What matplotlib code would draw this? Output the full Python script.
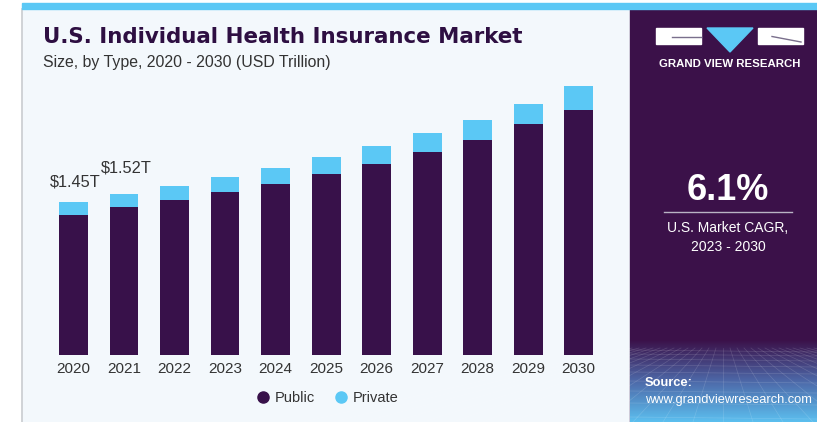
import numpy as np
import matplotlib.pyplot as plt
from matplotlib.lines import Line2D
from matplotlib.patches import Rectangle, Polygon

plt.rcParams['font.family'] = ['Liberation Sans', 'DejaVu Sans']

# market size by type, USD trillion
years = ['2020', '2021', '2022', '2023', '2024', '2025', '2026', '2027', '2028', '2029', '2030']
public = [1.32, 1.40, 1.47, 1.54, 1.62, 1.71, 1.81, 1.92, 2.03, 2.18, 2.32]
private = [0.13, 0.12, 0.13, 0.14, 0.15, 0.16, 0.17, 0.18, 0.19, 0.19, 0.22]
total_labels = {0: '$1.45T', 1: '$1.52T'}

PURPLE = '#38114a'
BLUE = '#5bc8f5'
BG = '#f3f8fc'

W, H = 817, 422
fig = plt.figure(figsize=(W / 100, H / 100), dpi=100)
fig.patch.set_facecolor('white')

# full-figure canvas in pixel units for the frame and side panel
bg = fig.add_axes([0, 0, 1, 1])
bg.set_xlim(0, W)
bg.set_ylim(H, 0)
bg.axis('off')

bg.add_patch(Rectangle((22, 9), W - 22, H - 9, color=BG, zorder=0))
bg.plot([22, 22], [9, H], color='#c9ccd0', lw=1.2, zorder=1)
bg.add_patch(Rectangle((22, 3), W - 22, 6, color=BLUE, zorder=2))

# side panel with gradient footer
bg.add_patch(Rectangle((630, 9), W - 630, H - 9, color='#3b1149', zorder=1))
grad = np.linspace(0, 1, 200)[:, None, None]
top_c = np.array([0x3b, 0x11, 0x49]) / 255
mid_c = np.array([0x4d, 0x68, 0xa8]) / 255
bot_c = np.array([0x5c, 0xbf, 0xef]) / 255
cols = np.where(grad < 0.5,
                top_c + (mid_c - top_c) * (grad / 0.5),
                mid_c + (bot_c - mid_c) * ((grad - 0.5) / 0.5))
cols = np.repeat(cols, 2, axis=1)
bg.imshow(cols, extent=[630, W, H, 340], aspect='auto', zorder=2)

# perspective mesh in the footer
for k in range(-14, 15):
    bg.plot([723 + k * 7, 723 + k * 30], [348, H], color='white', lw=0.5, alpha=0.15, zorder=3)
for yy in [350, 354, 359, 365, 372, 381, 391, 403, 417]:
    bg.plot([630, W], [yy, yy + 2], color='white', lw=0.5, alpha=0.15, zorder=3)
bg.set_xlim(0, W)
bg.set_ylim(H, 0)

# logo
bg.add_patch(Rectangle((656, 28), 45, 16, color='white', zorder=4))
bg.plot([672, 701], [36.5, 36.5], color='#7a6f8c', lw=1, zorder=5)
bg.add_patch(Polygon([[707, 28], [753, 28], [730, 52]], color=BLUE, zorder=4))
bg.add_patch(Rectangle((758, 28), 45, 16, color='white', zorder=4))
bg.plot([772, 801], [36.5, 42], color='#7a6f8c', lw=1, zorder=5)
bg.text(729.5, 64, 'GRAND VIEW RESEARCH', color='white', fontsize=8.2,
        fontweight='bold', ha='center', va='center', zorder=5)

# CAGR callout
bg.text(728, 191, '6.1%', color='white', fontsize=26, fontweight='bold',
        ha='center', va='center', zorder=5)
bg.plot([664, 792], [212, 212], color='#b9b3c4', lw=1, zorder=5)
bg.text(728, 228, 'U.S. Market CAGR,', color='white', fontsize=10,
        ha='center', va='center', zorder=5)
bg.text(728, 247, '2023 - 2030', color='white', fontsize=10,
        ha='center', va='center', zorder=5)

bg.text(645, 383, 'Source:', color='white', fontsize=9.3, fontweight='bold',
        ha='left', va='center', zorder=5)
bg.text(645, 400, 'www.grandviewresearch.com', color='white', fontsize=9.3,
        ha='left', va='center', zorder=5)

# titles
bg.text(43, 37, 'U.S. Individual Health Insurance Market', color='#2e0f42',
        fontsize=15.4, fontweight='bold', family='DejaVu Sans', ha='left', va='center')
bg.text(43, 62, 'Size, by Type, 2020 - 2030 (USD Trillion)', color='#333333',
        fontsize=11.4, ha='left', va='center')

# bar chart
ax = fig.add_axes([48.2 / W, 67 / H, 555.8 / W, 296 / H])
ax.patch.set_alpha(0)
x = np.arange(len(years))
ax.bar(x, public, width=0.57, color=PURPLE, zorder=2)
ax.bar(x, private, width=0.57, bottom=public, color=BLUE, zorder=2)
ax.set_xlim(-0.5, len(years) - 0.5)
ax.set_ylim(0, 296 / 105.75)
ax.set_xticks(x)
ax.set_xticklabels(years, fontsize=11, color='#333333')
ax.tick_params(axis='x', length=0, pad=5)
ax.set_yticks([])
for s in ax.spines.values():
    s.set_visible(False)

totals = [p + q for p, q in zip(public, private)]
offsets = {0: 8.4, 1: 13.8}
for i, lab in total_labels.items():
    ax.annotate(lab, (x[i], totals[i]), xytext=(1.5, offsets[i]), textcoords='offset points',
                ha='center', va='bottom', fontsize=11.8, color='#333333')

handles = [Line2D([], [], marker='o', ls='', color=PURPLE, markersize=8),
           Line2D([], [], marker='o', ls='', color=BLUE, markersize=8)]
fig.legend(handles, ['Public', 'Private'], loc='center', bbox_to_anchor=(327 / W, 1 - 398 / H),
           ncol=2, frameon=False, prop={'size': 10.5}, handletextpad=0.3, columnspacing=1.3,
           handlelength=1.0, labelcolor='#333333')

fig.savefig('out.png', dpi=100)
